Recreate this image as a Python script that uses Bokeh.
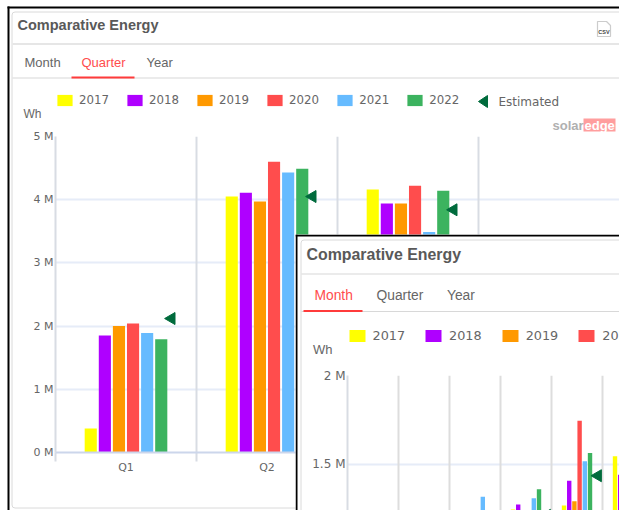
from math import pi, nan
from bokeh.embed import file_html
from bokeh.resources import INLINE
from bokeh.plotting import figure
from bokeh.layouts import column
from bokeh.models import (BoxAnnotation, FixedTicker, Grid, Label, Legend, LegendItem,
                          PolyAnnotation, Range1d)

YEARS = ["2017", "2018", "2019", "2020", "2021", "2022"]
COLORS = ["#FFFF00", "#AF00FF", "#FF9900", "#FF4D4D", "#66BBFF", "#3CB35F"]
EST_COLOR = "#006B3C"

QUARTERS = ["Q1", "Q2", "Q3", "Q4"]
Q_2017 = [0.38, 4.05, 4.16, nan]
Q_2018 = [1.85, 4.11, 3.94, nan]
Q_2019 = [2.00, 3.97, 3.94, nan]
Q_2020 = [2.04, 4.60, 4.22, nan]
Q_2021 = [1.89, 4.43, 3.49, nan]
Q_2022 = [1.79, 4.49, 4.14, nan]
Q_EST = [2.12, 4.05, 3.84, nan]
Q_TICKS = [0, 1, 2, 3, 4, 5]

MONTHS = ["Jan", "Feb", "Mar", "Apr", "May", "Jun"]
M_2017 = [nan, nan, nan, 1.243, 1.266, 1.544]
M_2018 = [nan, nan, nan, 1.272, 1.406, 1.44]
M_2019 = [nan, nan, nan, 1.24, 1.29, nan]
M_2020 = [nan, nan, nan, 1.24, 1.744, nan]
M_2021 = [nan, nan, 1.315, 1.307, 1.515, nan]
M_2022 = [nan, nan, nan, 1.357, 1.562, nan]
M_EST = [nan, nan, nan, 1.21, 1.434, nan]
M_TICKS = [1.5, 2.0]

TITLE = "Comparative Energy"
TABS = ["Month", "Quarter", "Year"]
GREY = "#666666"
RED = "#FF3B3B"


def box(p, l, t, r, b, fill, line=None, radius=0):
    p.add_layout(BoxAnnotation(left=l, right=r, top=t, bottom=b, left_units="canvas", right_units="canvas",
                               top_units="canvas", bottom_units="canvas", fill_color=fill, fill_alpha=1 if fill else 0,
                               line_color=line, line_alpha=1 if line else 0, line_width=1,
                               border_radius=radius))


def text(p, x, y, s, size, color=GREY, font="Liberation Sans", style="normal", align="left"):
    p.add_layout(Label(x=x, y=y, x_units="canvas", y_units="canvas", text=s, text_font=font, text_font_size=f"{size}px",
                       text_font_style=style, text_color=color, text_align=align, text_baseline="middle"))


def triangle(p, x, y, w, h):
    p.add_layout(PolyAnnotation(xs=[x, x + w, x + w], ys=[y, y - h / 2, y + h / 2], xs_units="canvas", ys_units="canvas",
                                fill_color=EST_COLOR, fill_alpha=1, line_color=EST_COLOR, line_alpha=1, line_width=1))


def chrome(w, h, margin):
    c = figure(width=w, height=h, x_range=Range1d(0, 1), y_range=Range1d(0, 1), output_backend="svg",
               toolbar_location=None, x_axis_location=None, y_axis_location=None, min_border=0, margin=margin,
               outline_line_color=None, background_fill_color="white", border_fill_color="white", frame_align=False)
    c.grid.visible = False
    return c


def legend(c, loc, spacing, gw, gh, standoff, size):
    items = []
    for name, col in zip(YEARS, COLORS):
        r = c.vbar(x=[0.5], top=[nan], bottom=0, width=0.1, fill_color=col, line_color=None)
        items.append(LegendItem(label=name, renderers=[r]))
    c.add_layout(Legend(items=items, orientation="horizontal", location=loc, margin=0, padding=0, spacing=spacing,
                        glyph_width=gw, glyph_height=gh, label_standoff=standoff, label_text_font="DejaVu Sans",
                        label_text_font_size=size, label_text_color=GREY, border_line_color=None,
                        background_fill_alpha=0, label_height=gh), "center")


def chart(w, h, l, t, b, xr, yr, yticks, margin):
    p = figure(width=w, height=h, x_range=xr, y_range=yr, output_backend="svg", toolbar_location=None,
               min_border_left=l, min_border_top=t, min_border_bottom=b, min_border_right=0, margin=margin,
               outline_line_color=None, background_fill_alpha=0, border_fill_alpha=0, frame_align=False)
    p.yaxis.ticker = FixedTicker(ticks=yticks)
    p.yaxis.major_tick_line_color = None
    p.yaxis.major_tick_out = 0
    p.yaxis.major_tick_in = 0
    p.yaxis.minor_tick_line_color = None
    p.yaxis.axis_line_color = "#D8DCE3"
    p.yaxis.axis_line_width = 2
    p.yaxis.major_label_text_font = "DejaVu Sans"
    p.yaxis.major_label_text_color = GREY
    p.yaxis.major_label_text_font_size = "11px"
    p.yaxis.major_label_standoff = 2
    p.ygrid.grid_line_color = "#E6ECF8"
    p.ygrid.grid_line_width = 2
    p.ygrid.ticker = FixedTicker(ticks=yticks)
    return p


# ------------------ main panel chrome ------------------
cp = chrome(619, 510, (0, 0, 0, 0))
legend(cp, (55, 403), 16, 19, 14, 5, "11.8px")
box(cp, 7, 6, 619, 8, "black")
box(cp, 7, 6, 9, 510, "black")
box(cp, 11.5, 11.5, 640, 507.5, None, "#DADADA", radius=3)
box(cp, 12, 42.5, 619, 44.5, "#E6E6E6")
box(cp, 12, 77, 619, 78, "#D8D8D8")
box(cp, 71, 76, 134, 78, RED)
text(cp, 17, 24.5, TITLE, 14.5, "#595959", style="bold")
for s, x, c in zip(TABS, [24, 81, 146], [GREY, "#FF4D4D", GREY]):
    text(cp, x, 62, s, 13, c)
text(cp, 23, 113, "Wh", 12)
triangle(cp, 478, 101, 9, 12)
text(cp, 498, 101, "Estimated", 12, font="DejaVu Sans")
box(cp, 583, 118, 615, 131, "#FF9E9E")
text(cp, 552, 124.5, "solar", 13, "#B0B0B0", style="bold")
text(cp, 584, 124.5, "edge", 13, "#FFFFFF", style="bold")
cp.add_layout(PolyAnnotation(xs=[597, 606, 610, 610, 597], ys=[21, 21, 25, 36, 36], xs_units="canvas", ys_units="canvas",
                             fill_alpha=0, line_color="#555555", line_width=1.2))
text(cp, 603.5, 31, "CSV", 5.5, "#444444", style="bold", align="center")
for x in [55, 196]:
    box(cp, x - 1, 452, x + 1, 461, "#D8DCE3")

# ------------------ main chart (Quarter) ------------------
p = chart(619, 510, 55, 136, 58, Range1d(0, 4), Range1d(0, 5), Q_TICKS, (-510, 0, 0, 0))
p.yaxis.major_label_overrides = {v: f"{v} M" for v in Q_TICKS}
p.xgrid.grid_line_color = None
p.xaxis.ticker = FixedTicker(ticks=[i + 0.5 for i in range(len(QUARTERS))])
p.xaxis.major_label_overrides = {i + 0.5: s for i, s in enumerate(QUARTERS)}
p.xaxis.major_tick_line_color = None
p.xaxis.major_tick_out = 0
p.xaxis.major_tick_in = 0
p.xaxis.minor_tick_line_color = None
p.xaxis.axis_line_color = "#CCD6EB"
p.xaxis.axis_line_width = 2
p.xaxis.major_label_text_font = "DejaVu Sans"
p.xaxis.major_label_text_font_size = "11px"
p.xaxis.major_label_text_color = GREY
p.xaxis.major_label_standoff = 8
p.add_layout(Grid(dimension=0, ticker=FixedTicker(ticks=[0, 1, 2, 3]), grid_line_color="#D8DCE3", grid_line_width=2))

for k, (col, vals) in enumerate(zip(COLORS, [Q_2017, Q_2018, Q_2019, Q_2020, Q_2021, Q_2022])):
    p.vbar(x=[i + 0.5 + (k - 2.5) * 0.1 for i in range(len(vals))], top=vals, bottom=0, width=0.086,
           fill_color=col, line_color=None)
p.scatter([i + 0.5 + 0.323 for i in range(len(Q_EST))], Q_EST, marker="triangle", size=12, angle=pi / 2,
          fill_color=EST_COLOR, line_color=EST_COLOR)

# ------------------ inset chrome ------------------
cq = chrome(324, 276, (-276, 0, 0, 295))
legend(cq, (51.5, 167), 18, 20, 15, 6, "12.8px")
box(cq, 0, 0, 324, 2, "black")
box(cq, 0, 0, 2, 276, "black")
box(cq, 5.5, 5.5, 340, 300, None, "#DADADA", radius=3)
box(cq, 6, 39, 324, 40, "#D8D8D8")
box(cq, 6, 76.5, 324, 77.5, "#D8D8D8")
box(cq, 8, 75.5, 67, 77.5, RED)
text(cq, 11, 19.5, TITLE, 15.9, "#595959", style="bold")
for s, x, c in zip(TABS, [19, 81, 151.5], ["#FF4D4D", GREY, GREY]):
    text(cq, x, 60.5, s, 13.8, c)
text(cq, 17.5, 115, "Wh", 13)

# ------------------ inset chart (Month) ------------------
q = chart(324, 276, 52, 141, 0, Range1d(0, 5.333), Range1d(1.2375, 2), M_TICKS, (-276, 0, 0, 295))
q.yaxis.major_label_overrides = {1.5: "1.5 M", 2.0: "2 M"}
q.yaxis.major_label_text_font_size = "12px"
q.xaxis.visible = False
q.xgrid.grid_line_color = None
q.add_layout(Grid(dimension=0, ticker=FixedTicker(ticks=[1, 2, 3, 4, 5]), grid_line_color="#DDDDDD", grid_line_width=2))

for k, (col, vals) in enumerate(zip(COLORS, [M_2017, M_2018, M_2019, M_2020, M_2021, M_2022])):
    q.vbar(x=[i + 0.5 + (k - 2.5) * 0.102 for i in range(len(vals))], top=vals, bottom=0, width=0.086,
           fill_color=col, line_color=None)
q.scatter([i + 0.5 + 0.41 for i in range(len(M_EST))], M_EST, marker="triangle", size=12, angle=pi / 2,
          fill_color=EST_COLOR, line_color=EST_COLOR)

page = column(cp, p, cq, q)
open("out.html", "w").write(file_html(page, INLINE))
